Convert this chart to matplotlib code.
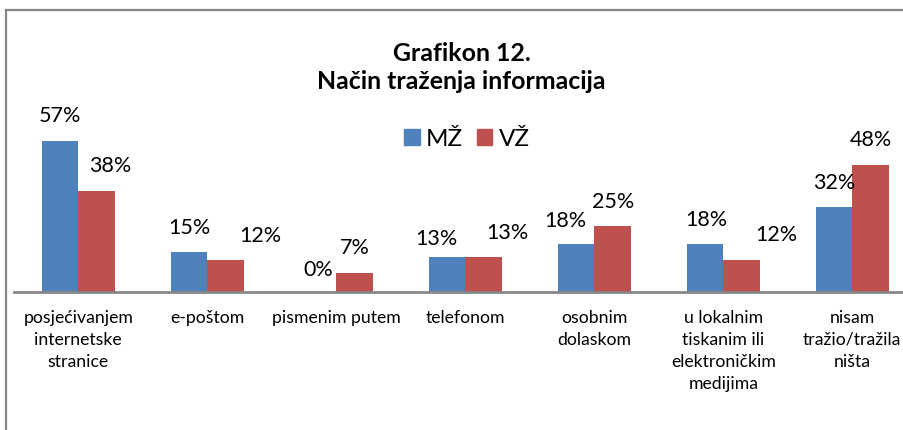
import numpy as np
import matplotlib
matplotlib.use("Agg")
import matplotlib.pyplot as plt
from matplotlib.lines import Line2D
from matplotlib.patches import Patch

plt.rcParams["font.family"] = ["Lato", "DejaVu Sans"]

categories = ["posjećivanjem\ninternetske\nstranice", "e-poštom", "pismenim putem",
              "telefonom", "osobnim\ndolaskom",
              "u lokalnim\ntiskanim ili\nelektroničkim\nmedijima",
              "nisam\ntražio/tražila\nništa"]
mz = [57, 15, 0, 13, 18, 18, 32]
vz = [38, 12, 7, 13, 25, 12, 48]

# label nudges in pixels (the source chart had hand-placed labels)
mz_dx = [0, 1, 0, -10, -11, 1, 0]
mz_dy = [25, 24, 22, 18, 23, 24, 24]
vz_dx = [14, 35, 0, 24, 0, 35, 0]
vz_dy = [25, 24, 25, 24, 24, 25, 25]

C_MZ = "#4F81BD"
C_VZ = "#C0504D"
C_GREY = "#878787"

W, H = 904, 430
fig = plt.figure(figsize=(W / 100, H / 100), dpi=100)

# chart frame (only top and left edges are inside the crop)
fig.add_artist(Line2D([6.5 / W, 6.5 / W], [0, 1 - 9.5 / H], transform=fig.transFigure,
                      color=C_GREY, lw=1.6))
fig.add_artist(Line2D([6.5 / W, 1], [1 - 9.5 / H, 1 - 9.5 / H], transform=fig.transFigure,
                      color=C_GREY, lw=1.6))

base_px, top_px, left_px = 291.5, 10, 13.8
ax = fig.add_axes([left_px / W, 1 - base_px / H, 903 / W, (base_px - top_px) / H])
ax.set_ylim(0, (base_px - top_px) / 2.64)
ax.set_xlim(-0.5, len(categories) - 0.5)

x = np.arange(len(categories))
w = 0.285
b1 = ax.bar(x - w / 2, mz, w, color=C_MZ)
b2 = ax.bar(x + w / 2, vz, w, color=C_VZ)

for bars, vals, dxs, dys in ((b1, mz, mz_dx, mz_dy), (b2, vz, vz_dx, vz_dy)):
    for r, v, dx, dy in zip(bars, vals, dxs, dys):
        ax.annotate(f"{v}%", xy=(r.get_x() + r.get_width() / 2, v),
                    xytext=(dx, dy), textcoords="offset pixels",
                    ha="center", va="center", fontsize=15.5, color="#000000")

for s in ("left", "right", "top"):
    ax.spines[s].set_visible(False)
ax.spines["bottom"].set_color(C_GREY)
ax.spines["bottom"].set_linewidth(2)
ax.set_yticks([])
ax.set_xticks(x)
ax.set_xticklabels(categories, fontsize=12.7, linespacing=1.48)
ax.tick_params(axis="x", length=0, pad=13)

fig.text(461.5 / W, 1 - 67.5 / H, "Grafikon 12.\nNačin traženja informacija",
         ha="center", va="center", fontsize=17.9, fontweight="bold", linespacing=1.22)

handles = [Patch(color=C_MZ, label="MŽ"), Patch(color=C_VZ, label="VŽ")]
fig.legend(handles=handles, loc="center", bbox_to_anchor=(467 / W, 1 - 139 / H),
           ncol=2, frameon=False, fontsize=17.5, handlelength=0.62, handleheight=0.62,
           handletextpad=0.25, columnspacing=0.6, borderpad=0)

fig.savefig("out.png", dpi=100)
